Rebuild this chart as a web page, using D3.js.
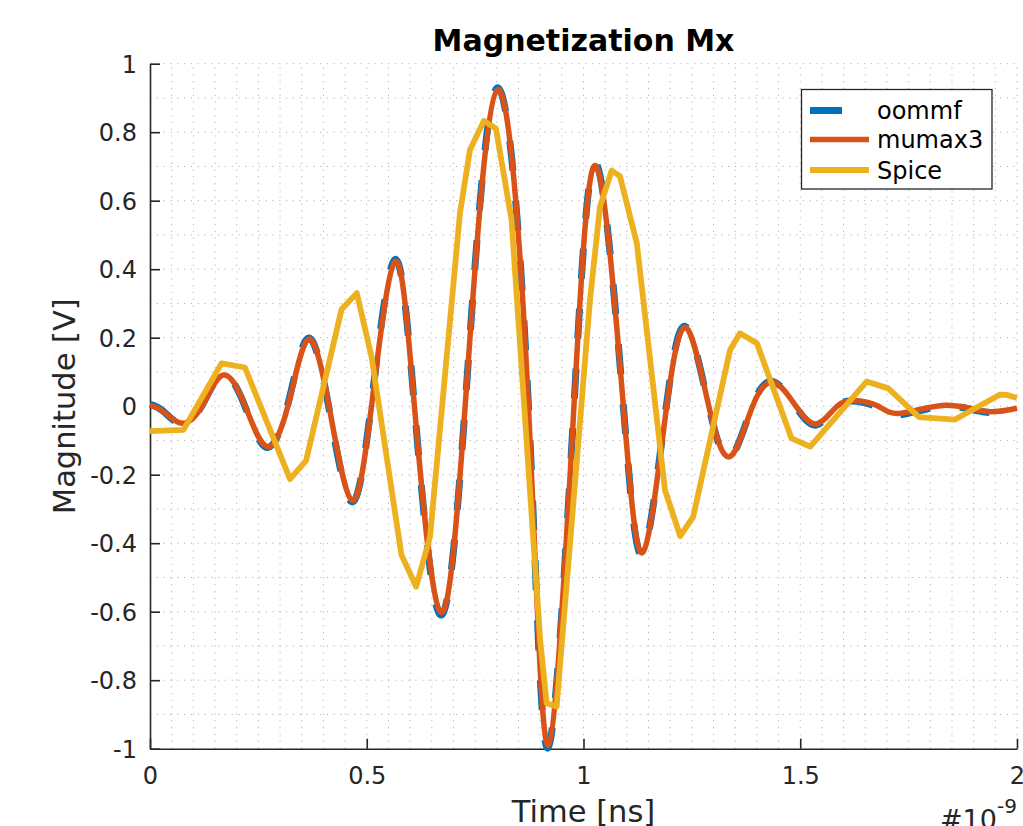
<!DOCTYPE html>
<html><head><meta charset="utf-8">
<script src="https://cdn.jsdelivr.net/npm/d3@7"></script>
<style>body{margin:0;background:#fff;} svg{display:block;font-family:"DejaVu Sans",sans-serif;}</style>
</head><body>
<svg id="chart" width="1023" height="826"></svg>
<script>
// ---- data ----
const oommfTime = [0.000,0.030,0.072,0.119,0.168,0.219,0.268,0.317,0.364,0.412,0.464,0.510,0.564,0.610,0.668,0.727,0.800,0.873,0.918,0.978,1.030,1.092,1.137,1.191,1.237,1.289,1.337,1.389,1.438,1.489,1.537,1.584,1.630,1.680,1.729,1.834,1.925,2.000];
const oommfMx   = [0.005,-0.014,-0.051,0.000,0.092,0.000,-0.120,0.000,0.198,0.000,-0.278,0.000,0.427,0.000,-0.607,0.000,0.928,0.000,-0.998,0.000,0.706,0.000,-0.430,0.000,0.231,0.000,-0.150,0.000,0.072,0.000,-0.055,0.000,0.014,-0.004,-0.025,0.000,-0.017,-0.008];
const mumaxTime = [0.000,0.030,0.073,0.120,0.169,0.220,0.269,0.318,0.365,0.413,0.465,0.511,0.565,0.610,0.669,0.727,0.801,0.873,0.919,0.978,1.030,1.092,1.138,1.192,1.238,1.289,1.338,1.390,1.439,1.490,1.538,1.585,1.630,1.680,1.730,1.834,1.925,2.000];
const mumaxMx   = [0.003,-0.015,-0.050,0.000,0.091,0.000,-0.118,0.000,0.195,0.000,-0.274,0.000,0.422,0.000,-0.600,0.000,0.923,0.000,-0.990,0.000,0.700,0.000,-0.425,0.000,0.228,0.000,-0.147,0.000,0.070,0.000,-0.052,0.000,0.016,0.000,-0.021,0.003,-0.015,-0.006];
const spiceTime = [0.000,0.077,0.165,0.219,0.323,0.360,0.442,0.477,0.511,0.580,0.614,0.646,0.715,0.738,0.770,0.798,0.834,0.900,0.915,0.938,1.015,1.038,1.065,1.084,1.123,1.188,1.223,1.253,1.338,1.361,1.400,1.480,1.523,1.653,1.703,1.774,1.857,1.961,1.976,2.000];
const spiceMx   = [-0.073,-0.069,0.125,0.113,-0.213,-0.159,0.283,0.330,0.145,-0.434,-0.527,-0.381,0.563,0.748,0.833,0.811,0.544,-0.682,-0.867,-0.877,0.310,0.582,0.688,0.672,0.476,-0.245,-0.379,-0.323,0.164,0.213,0.184,-0.094,-0.118,0.072,0.052,-0.032,-0.039,0.034,0.033,0.024];
const seriesNames = ["oommf","mumax3","Spice"];
const xTicks = [0,0.5,1,1.5,2];
const xTickLabels = ["0","0.5","1","1.5","2"];
const yTicks = [-1,-0.8,-0.6,-0.4,-0.2,0,0.2,0.4,0.6,0.8,1];
const yTickLabels = ["-1","-0.8","-0.6","-0.4","-0.2","0","0.2","0.4","0.6","0.8","1"];

// ---- layout ----
const svg = d3.select("#chart");
const L = 150, R = 1017, T = 63.7, B = 748.7;
const x = d3.scaleLinear().domain([0,2]).range([L,R]);
const y = d3.scaleLinear().domain([-1,1]).range([B,T]);
const ink = "#262626";
const colors = ["#0072BD","#D95319","#EDB120"];
const widths = [7,5.5,5.8];

// grid (major + minor, dotted)
const gx = d3.range(0, 2.0001, 0.05).filter(v => v > 0.001);
const gy = d3.range(-1, 1.0001, 0.1).filter(v => v > -0.999);
const grid = svg.append("g").attr("stroke","#b8b8b8").attr("stroke-width",1).attr("stroke-dasharray","1.3,5.5");
grid.selectAll("line.gx").data(gx).join("line").attr("x1",d=>x(d)).attr("x2",d=>x(d)).attr("y1",B).attr("y2",T);
grid.selectAll("line.gy").data(gy).join("line").attr("y1",d=>y(d)).attr("y2",d=>y(d)).attr("x1",L).attr("x2",R);

// axes
const xAxis = d3.axisBottom(x).tickValues(xTicks).tickFormat((d,i)=>xTickLabels[i]).tickSizeInner(-10).tickSizeOuter(0).tickPadding(18);
const yAxis = d3.axisLeft(y).tickValues(yTicks).tickFormat((d,i)=>yTickLabels[i]).tickSizeInner(-10).tickSizeOuter(0).tickPadding(13);
const gX = svg.append("g").attr("transform",`translate(0,${B})`).call(xAxis);
const gY = svg.append("g").attr("transform",`translate(${L},0)`).call(yAxis);
[gX,gY].forEach(g=>{
  g.selectAll("path.domain").attr("stroke",ink).attr("stroke-width",1.6);
  g.selectAll(".tick line").attr("stroke",ink).attr("stroke-width",1.6);
  g.selectAll(".tick text").attr("fill",ink).attr("font-size","24px").attr("font-family","DejaVu Sans");
});
gY.selectAll(".tick text").attr("dy","0.36em");

// lines
const plot = svg.append("g");
const smooth = d3.line().x(d=>x(d[0])).y(d=>y(d[1])).curve(d3.curveNatural);
const straight = d3.line().x(d=>x(d[0])).y(d=>y(d[1]));
const oommf = d3.zip(oommfTime, oommfMx);
const mumax = d3.zip(mumaxTime, mumaxMx);
const spice = d3.zip(spiceTime, spiceMx);
plot.append("path").datum(oommf).attr("d",smooth).attr("fill","none").attr("stroke",colors[0]).attr("stroke-width",widths[0]).attr("stroke-dasharray","30,30");
plot.append("path").datum(mumax).attr("d",smooth).attr("fill","none").attr("stroke",colors[1]).attr("stroke-width",widths[1]).attr("stroke-linejoin","round");
plot.append("path").datum(spice).attr("d",straight).attr("fill","none").attr("stroke",colors[2]).attr("stroke-width",widths[2]).attr("stroke-linejoin","round");

// title & labels
svg.append("text").attr("x",(L+R)/2).attr("y",51).attr("text-anchor","middle").attr("font-weight","bold").attr("font-size","30px").attr("fill","#000").text("Magnetization Mx");
svg.append("text").attr("transform",`translate(75,${(T+B)/2}) rotate(-90)`).attr("text-anchor","middle").attr("font-size","30.5px").attr("fill",ink).text("Magnitude [V]");
svg.append("text").attr("x",(L+R)/2).attr("y",822).attr("text-anchor","middle").attr("font-size","30.5px").attr("fill",ink).text("Time [ns]");
const ex = svg.append("text").attr("x",940).attr("y",829).attr("font-size","27px").attr("fill",ink);
ex.append("tspan").text("#10");
ex.append("tspan").attr("dy",-16).attr("font-size","20px").text("-9");

// legend
const lg = svg.append("g");
lg.append("rect").attr("x",801.5).attr("y",89.5).attr("width",190.5).attr("height",99.5).attr("fill","#fff").attr("stroke",ink).attr("stroke-width",1.3);
const rowsY = [110.5,139.5,170];
seriesNames.forEach((n,i)=>{
  lg.append("line").attr("x1",810).attr("x2",i===0?842:869).attr("y1",rowsY[i]).attr("y2",rowsY[i]).attr("stroke",colors[i]).attr("stroke-width",widths[i]);
  lg.append("text").attr("x",877).attr("y",rowsY[i]).attr("dy","0.36em").attr("font-size","24px").attr("fill","#000").text(n);
});
</script>
</body></html>
